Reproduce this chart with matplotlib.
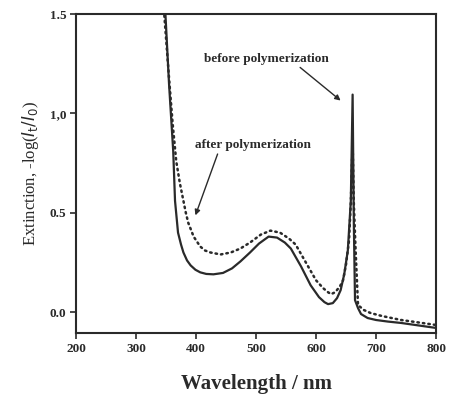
import matplotlib
matplotlib.use("Agg")
import matplotlib.pyplot as plt

# before polymerization (solid)
wl_before = [340, 349, 355, 362, 365, 370, 375, 379, 385, 391, 399, 407, 417, 429, 445, 460, 474, 490,
             505, 521, 535, 548, 558, 575, 591, 605, 614, 620, 628, 635, 641, 647, 653, 658,
             661, 663, 665, 670, 675, 686, 700, 720, 742, 770, 800]
ext_before = [1.75, 1.5, 1.15, 0.81, 0.56, 0.40, 0.34, 0.30, 0.26, 0.235, 0.213, 0.20, 0.192, 0.19, 0.197, 0.22, 0.255, 0.30,
              0.345, 0.38, 0.375, 0.35, 0.32, 0.23, 0.135, 0.075, 0.05, 0.04, 0.045, 0.07, 0.11, 0.19, 0.31, 0.56,
              1.095, 0.45, 0.06, 0.02, -0.01, -0.03, -0.04, -0.048, -0.055, -0.067, -0.08]

# after polymerization (dotted)
wl_after = [338, 347, 355, 361, 367, 373, 379, 383, 387, 396, 407, 415, 424, 441, 458, 474, 490, 508,
            524, 540, 555, 566, 583, 600, 612, 620, 625, 632, 640, 645, 650, 655, 658, 660,
            661, 663, 666, 670, 680, 691, 710, 742, 770, 800]
ext_after = [1.75, 1.5, 1.18, 0.95, 0.76, 0.65, 0.56, 0.50, 0.45, 0.38, 0.33, 0.31, 0.30, 0.29, 0.30, 0.32, 0.35, 0.39,
             0.41, 0.40, 0.37, 0.34, 0.25, 0.16, 0.12, 0.10, 0.09, 0.10, 0.13, 0.16, 0.24, 0.36, 0.55, 0.76,
             0.85, 0.55, 0.31, 0.035, 0.01, -0.005, -0.02, -0.04, -0.052, -0.065]

xticks = [200, 300, 400, 500, 600, 700, 800]
yticks = [0.0, 0.5, 1.0, 1.5]
ytick_labels = ["0.0", "0.5", "1,0", "1.5"]

plt.rcParams['font.family'] = ['Liberation Serif', 'DejaVu Serif']

fig = plt.figure(figsize=(4.58, 4.05), dpi=100)
ax = fig.add_axes([0.166, 0.178, 0.786, 0.787])

col = '#2a2a2a'
ax.plot(wl_before, ext_before, color=col, lw=1.6, solid_joinstyle='round')
ax.plot(wl_after, ext_after, color=col, lw=1.8, linestyle=(0, (0.6, 1.6)), dash_capstyle='round')

ax.set_xlim(200, 800)
ax.set_ylim(-0.105, 1.5)
ax.set_xticks(xticks)
ax.set_yticks(yticks)
ax.set_yticklabels(ytick_labels)
ax.tick_params(direction='out', length=4, width=1.2, labelsize=9.5, colors=col, pad=3)
for lab in ax.get_xticklabels() + ax.get_yticklabels():
    lab.set_fontweight('bold')
for s in ax.spines.values():
    s.set_linewidth(1.5)
    s.set_color(col)

ax.set_xlabel("Wavelength / nm", fontsize=15, fontweight='bold', color=col, labelpad=14)
ax.set_ylabel(r"Extinction, -log($I_{\rm t}/I_0$)", fontsize=12, color=col, labelpad=6)

ax.annotate("before polymerization", xy=(641, 1.065), xytext=(414, 1.276),
            fontsize=9.5, fontweight='bold', color=col, va='center',
            arrowprops=dict(arrowstyle='-|>', color=col, lw=1.0, mutation_scale=8,
                            shrinkA=0, shrinkB=0, relpos=(0.74, 0)))
ax.annotate("after polymerization", xy=(399, 0.487), xytext=(399, 0.84),
            fontsize=9.5, fontweight='bold', color=col, va='center',
            arrowprops=dict(arrowstyle='-|>', color=col, lw=1.0, mutation_scale=8,
                            shrinkA=0, shrinkB=0, relpos=(0.2, 0)))

fig.savefig("out.png", dpi=100)
